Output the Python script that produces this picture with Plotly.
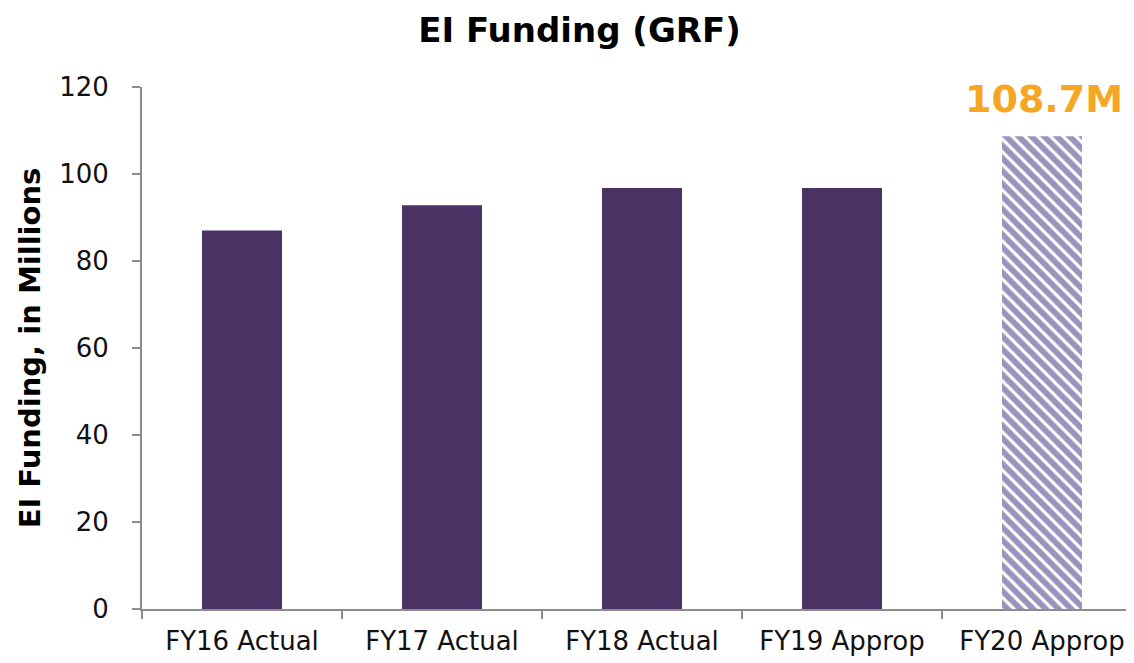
import plotly.graph_objects as go

categories = ["FY16 Actual", "FY17 Actual", "FY18 Actual", "FY19 Approp", "FY20 Approp"]
solid_values = [87.0, 92.8, 96.8, 96.8, None]
projected_values = [None, None, None, None, 108.7]
label_text = "108.7M"

FONT = "DejaVu Sans"

fig = go.Figure()
fig.add_trace(go.Bar(x=categories, y=solid_values, marker=dict(color="#4B3264", line=dict(width=0)),
                     width=0.4, showlegend=False))
fig.add_trace(go.Bar(x=categories, y=projected_values,
                     marker=dict(color="white", line=dict(width=0),
                                 pattern=dict(shape="\\", fgcolor="#302B78", bgcolor="white",
                                              size=9, solidity=0.65, fillmode="overlay")),
                     width=0.4, showlegend=False))
fig.add_annotation(x=categories[4], y=projected_values[4], text="<b>" + label_text + "</b>",
                   showarrow=False, yshift=37, xshift=2,
                   font=dict(family=FONT, size=38, color="#F5A623"))

fig.update_layout(
    width=1134, height=663,
    margin=dict(l=134, r=0, t=79, b=62),
    paper_bgcolor="white", plot_bgcolor="white",
    barmode="overlay",
    title=dict(text="<b>EI Funding (GRF)</b>", x=0.504, xanchor="center", y=0.967, yanchor="middle",
               font=dict(family=FONT, size=34, color="black")),
    font=dict(family=FONT, color="black"),
)
fig.update_xaxes(range=[-0.5, 4.5], showline=True, linecolor="#8c8c8c", linewidth=2,
                 ticks="outside", tickson="boundaries", ticklen=8, tickcolor="#8c8c8c", tickwidth=2,
                 tickfont=dict(size=26, family=FONT, color="#111111"), showgrid=False,
                 automargin=False, ticklabelstandoff=8)
fig.update_yaxes(range=[0, 120], dtick=20, showline=True, linecolor="#8c8c8c", linewidth=2,
                 ticks="outside", ticklen=8, tickcolor="#8c8c8c", tickwidth=2,
                 tickfont=dict(size=26, family=FONT, color="#111111"), showgrid=False, zeroline=False,
                 automargin=False, ticklabelstandoff=18,
                 title=dict(text="<b>EI Funding, in Millions</b>", font=dict(size=29, family=FONT), standoff=10))

fig.write_html("out.html")
